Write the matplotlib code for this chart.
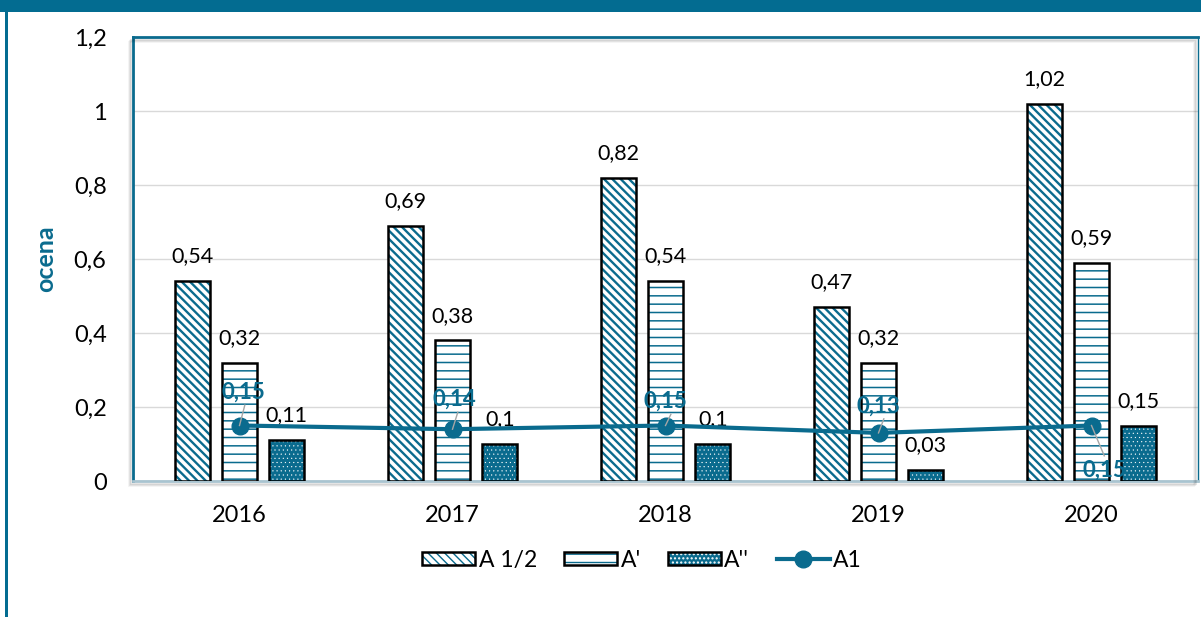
import matplotlib
matplotlib.use("Agg")
import matplotlib.pyplot as plt
from matplotlib.patches import Rectangle
from matplotlib.lines import Line2D
import numpy as np

plt.rcParams['font.family'] = ['Lato', 'DejaVu Sans']

years = ['2016', '2017', '2018', '2019', '2020']
a_half = [0.54, 0.69, 0.82, 0.47, 1.02]
a_prime = [0.32, 0.38, 0.54, 0.32, 0.59]
a_dprime = [0.11, 0.10, 0.10, 0.03, 0.15]
a1 = [0.15, 0.14, 0.15, 0.13, 0.15]
yticks = [0, 0.2, 0.4, 0.6, 0.8, 1.0, 1.2]
ytick_labels = ['0', '0,2', '0,4', '0,6', '0,8', '1', '1,2']

TEAL = '#0A6B8E'

def fmt(v):
    return ('%g' % v).replace('.', ',')

fig = plt.figure(figsize=(12.01, 6.17), dpi=100)
fig.patches.append(Rectangle((0, 1 - 12/617), 1, 12/617, transform=fig.transFigure,
                             facecolor='#036C91', edgecolor='none', zorder=0))
fig.patches.append(Rectangle((5/1201, 0), 3/1201, 1 - 12/617, transform=fig.transFigure,
                             facecolor='#036C91', edgecolor='none', zorder=0))

ax = fig.add_axes([133/1201, 136/617, 1065/1201, 444/617])

for i, a in enumerate([0.10, 0.07, 0.04]):
    fig.patches.append(Rectangle((133/1201 - (2 + i)/1201, 136/617 - (3 + i)/617),
                                 1065/1201, 444/617, transform=fig.transFigure,
                                 facecolor='none', edgecolor=(0, 0, 0, a), lw=1.5, zorder=0))

x = np.arange(len(years))
w = 0.164
off = 0.222

styles = [
    ('white', TEAL, '\\\\\\\\', 1.7),
    ('white', TEAL, '--', 1.1),
    (TEAL, 'white', '....', 0.3),
]

def hatched_bars(xs, vals, st):
    face, hcol, hatch, hlw = st
    with plt.rc_context({'hatch.linewidth': hlw}):
        ax.bar(xs, vals, w, facecolor=face, edgecolor=hcol, hatch=hatch, lw=0, zorder=3)
    ax.bar(xs, vals, w, fill=False, edgecolor='black', lw=1.8, zorder=4)

hatched_bars(x - off, a_half, styles[0])
hatched_bars(x, a_prime, styles[1])
hatched_bars(x + off, a_dprime, styles[2])

for xs, vals in [(x - off, a_half), (x, a_prime), (x + off, a_dprime)]:
    for xi, v in zip(xs, vals):
        ax.text(xi, v + 0.04, fmt(v), ha='center', va='bottom', fontsize=15.5, color='black', zorder=6)

ax.plot(x, a1, color=TEAL, lw=3, marker='o', ms=12, zorder=7)

lab_off = [(0.02, 0.09), (0.01, 0.081), (0.0, 0.065), (0.0, 0.073), (0.061, -0.122)]
for xi, v, (dx, dy) in zip(x, a1, lab_off):
    ax.text(xi + dx, v + dy, fmt(v), ha='center', va='center', fontsize=16,
            color=TEAL, fontweight='bold', zorder=8)
    if dy > 0:
        ax.plot([xi + 0.0, xi + 0.025], [v + 0.0, v + dy - 0.035], color='#A6A6A6', lw=1, zorder=8)
    else:
        ax.plot([xi + 0.0, xi + 0.06], [v - 0.0, v + dy + 0.04], color='#A6A6A6', lw=1, zorder=8)

ax.set_xlim(-0.5, 4.5)
ax.set_ylim(0, 1.2)
ax.set_yticks(yticks)
ax.set_yticklabels(ytick_labels, fontsize=17)
ax.set_xticks(x)
ax.set_xticklabels(years, fontsize=17)
ax.tick_params(axis='both', length=0)
ax.tick_params(axis='y', pad=19)
ax.tick_params(axis='x', pad=17)
ax.grid(axis='y', color='#D9D9D9', lw=1, zorder=0)
ax.set_axisbelow(True)
for s in ['left', 'top', 'right']:
    ax.spines[s].set_color(TEAL)
    ax.spines[s].set_linewidth(2 if s != 'right' else 1)
ax.spines['bottom'].set_color('#A9C4D0')
ax.spines['bottom'].set_linewidth(2)

ax.set_ylabel('ocena', fontsize=18, fontweight='bold', color=TEAL, labelpad=12)

def legend_box(st):
    face, hcol, hatch, hlw = st
    with plt.rc_context({'hatch.linewidth': hlw}):
        h = Rectangle((0, 0), 1, 1, facecolor=face, edgecolor=hcol, hatch=hatch, lw=0)
    b = Rectangle((0, 0), 1, 1, fill=False, edgecolor='black', lw=1.8)
    return (h, b)

handles = [legend_box(styles[0]), legend_box(styles[1]), legend_box(styles[2]),
           Line2D([0], [0], color=TEAL, lw=3, marker='o', ms=12)]
leg = ax.legend(handles, ['A 1/2', "A'", "A''", 'A1'], loc='center',
                bbox_to_anchor=(0.478, -0.178), ncol=4, frameon=False, fontsize=16.5,
                handlelength=2.3, handleheight=0.55, handletextpad=0.15, columnspacing=1.2)

fig.savefig('out.png', dpi=100)
